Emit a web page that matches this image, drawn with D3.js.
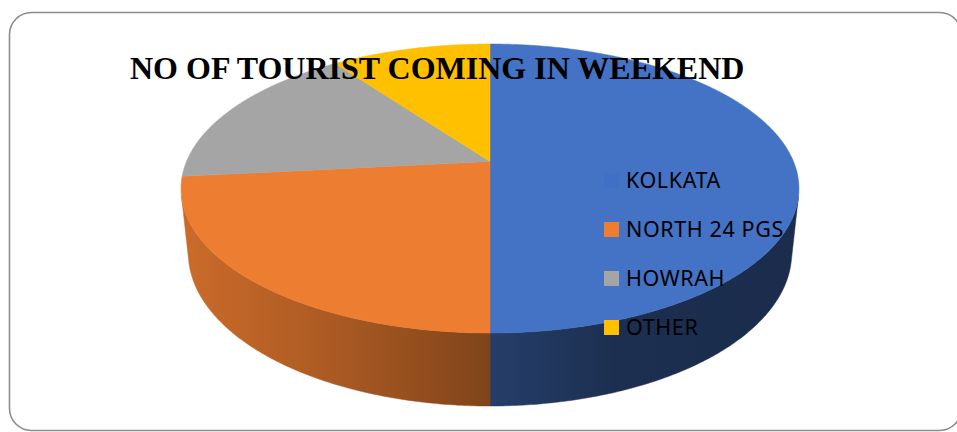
<!DOCTYPE html>
<html>
<head>
<meta charset="utf-8">
<script src="https://cdn.jsdelivr.net/npm/d3@7"></script>
<style>
  html, body { margin: 0; padding: 0; background: #fff; }
  svg { display: block; }
</style>
</head>
<body>
<svg id="chart" width="957" height="432"></svg>
<script>
// data
const categories = ["KOLKATA", "NORTH 24 PGS", "HOWRAH", "OTHER"];
const values = [150, 70, 50, 30];
const colors = ["#4472C4", "#ED7D31", "#A5A5A5", "#FFC000"];
const title = "NO OF TOURIST COMING IN WEEKEND";

const width = 957, height = 432;
const svg = d3.select("#chart");

// frame
svg.append("rect")
  .attr("x", 9.5).attr("y", 12.5)
  .attr("width", 952).attr("height", 418)
  .attr("rx", 22).attr("ry", 22)
  .attr("fill", "#fff")
  .attr("stroke", "#8c8c8c")
  .attr("stroke-width", 1.6);

// simple perspective camera looking down on a unit disk
const cx = 490, cy = 161.5;       // screen pos of the pie centre
const sinA = 0.4595, cosA = Math.sqrt(1 - sinA * sinA);
const L = 4.751;                  // camera distance
const f = 1442;                   // focal length (px)
const thick = 0.2413;             // pie thickness

function project(theta, h) {
  const X = Math.sin(theta), Z = Math.cos(theta);
  const depth = L + Z * cosA + h * sinA;
  const up = Z * sinA - h * cosA;
  return [cx + f * X / depth, cy - f * up / depth];
}

function arcPoints(a0, a1, h) {
  const n = Math.max(2, Math.ceil(Math.abs(a1 - a0) / (Math.PI / 360)));
  return d3.range(n + 1).map(i => project(a0 + (a1 - a0) * i / n, h));
}

const pie = d3.pie().sort(null).value(d => d.value).startAngle(0).endAngle(2 * Math.PI);
const slices = pie(categories.map((c, i) => ({ name: c, value: values[i], color: colors[i] })));

const color = d3.scaleOrdinal().domain(categories).range(colors);

// side walls are only visible between the silhouette generators
const Dc = L * cosA;
const silA = Math.acos(-1 / Dc), silB = 2 * Math.PI - silA;

const left = project(-Math.PI / 2 - 0.19, 0)[0] - 5, right = project(Math.PI / 2 + 0.19, 0)[0] + 5;
const defs = svg.append("defs");
const shade = [[0, 0.86], [0.25, 0.72], [0.5, 0.54], [0.7, 0.41], [1, 0.39]];

slices.forEach((s, i) => {
  const g = defs.append("linearGradient")
    .attr("id", "side" + i)
    .attr("gradientUnits", "userSpaceOnUse")
    .attr("x1", left).attr("x2", right).attr("y1", 0).attr("y2", 0);
  const c = d3.rgb(color(s.data.name));
  shade.forEach(([o, k]) => {
    g.append("stop").attr("offset", o)
      .attr("stop-color", d3.rgb(c.r * k, c.g * k, c.b * k).formatHex());
  });
});

const line = d3.line();

const walls = slices.filter(s => s.endAngle > silA && s.startAngle < silB);
svg.append("g").selectAll("path")
  .data(walls)
  .join("path")
  .attr("d", s => {
    const a0 = Math.max(s.startAngle, silA), a1 = Math.min(s.endAngle, silB);
    const pts = arcPoints(a0, a1, 0).concat(arcPoints(a1, a0, thick));
    return line(pts) + "Z";
  })
  .attr("fill", s => "url(#side" + slices.indexOf(s) + ")")
  .attr("stroke", s => "url(#side" + slices.indexOf(s) + ")")
  .attr("stroke-width", 0.5);

svg.append("g").selectAll("path")
  .data(slices)
  .join("path")
  .attr("d", s => line([[cx, cy]].concat(arcPoints(s.startAngle, s.endAngle, 0))) + "Z")
  .attr("fill", s => color(s.data.name))
  .attr("stroke", s => color(s.data.name))
  .attr("stroke-width", 0.5);

// legend
const ly = d3.scalePoint().domain(categories).range([188, 335]);
const legend = svg.append("g").selectAll("g")
  .data(categories)
  .join("g")
  .attr("transform", d => `translate(604,${ly(d)})`);

legend.append("rect")
  .attr("x", 0).attr("y", -15)
  .attr("width", 15).attr("height", 15)
  .attr("fill", (d, i) => i === 0 ? "#4070c6" : color(d));

legend.append("text")
  .attr("x", 22).attr("y", 0)
  .attr("font-family", "'Noto Sans', 'Open Sans', sans-serif")
  .attr("font-size", 21.5)
  .attr("letter-spacing", 0.6)
  .attr("fill", "#000")
  .text(d => d);

// title
svg.append("text")
  .attr("x", 130).attr("y", 79)
  .attr("font-family", "'Liberation Serif', 'Times New Roman', serif")
  .attr("font-weight", "bold")
  .attr("font-size", 32)
  .attr("fill", "#000")
  .text(title);
</script>
</body>
</html>
